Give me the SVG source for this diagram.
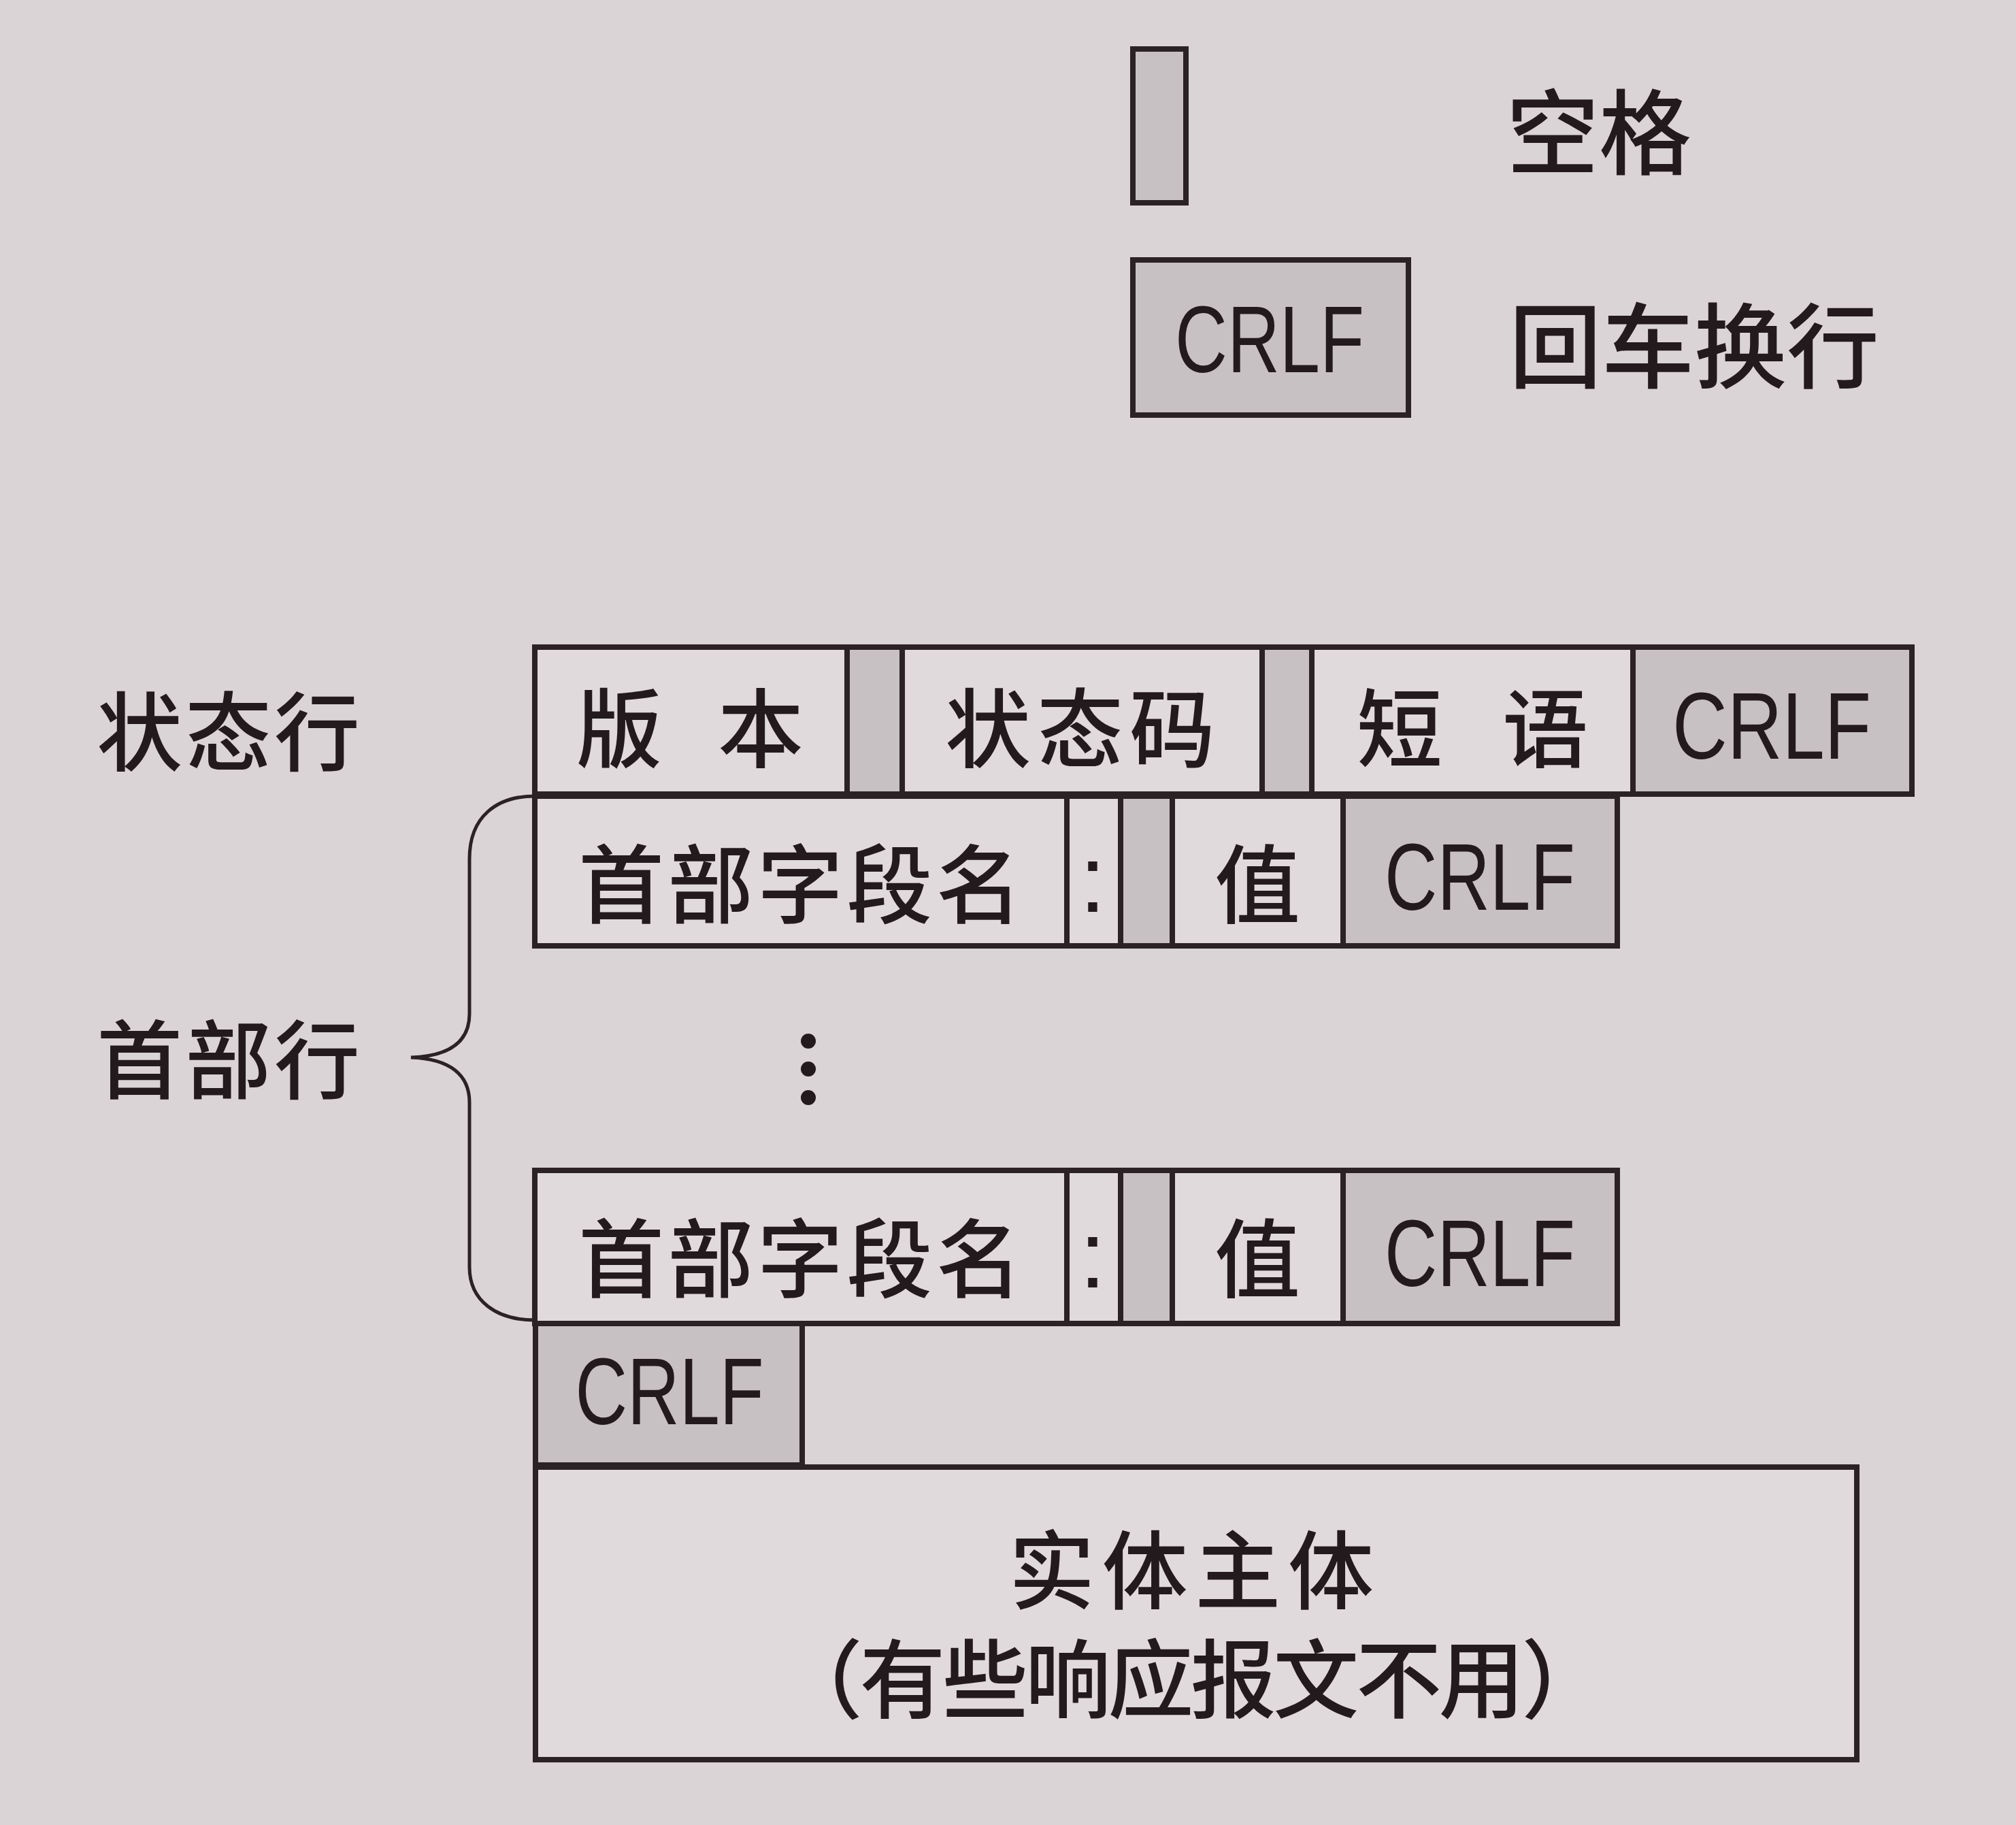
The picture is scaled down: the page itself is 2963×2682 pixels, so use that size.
<svg xmlns="http://www.w3.org/2000/svg" width="2963" height="2682" viewBox="0 0 2963 2682">
<style>
.cell{fill:#e0dadc;stroke:#2a2225;stroke-width:8}
.sh{fill:#c8c1c4;stroke:#2a2225;stroke-width:8}
.zh{font-family:"Noto Sans CJK SC","Noto Sans CJK TC",sans-serif;font-size:126px;font-weight:500;fill:#221a1d;dominant-baseline:central}
.lg{font-size:136px}
.en{font-family:"Liberation Sans",Arial,sans-serif;font-size:140px;fill:#221a1d}
.brace{fill:none;stroke:#2a2225;stroke-width:5}
</style>
<rect width="2963" height="2682" fill="#dad4d6"/>

<g id="legend-space">
<rect class="sh" x="1665" y="72" width="78" height="226"/>
<text class="zh lg" x="2214" y="186">空格</text>
</g>
<g id="legend-crlf">
<rect class="sh" x="1665" y="382" width="405" height="228"/>
<text class="en" x="1866" y="547" text-anchor="middle" textLength="278" lengthAdjust="spacingAndGlyphs">CRLF</text>
<text class="zh lg" x="2218" y="500">回车换行</text>
</g>

<g id="label-status">
<text class="zh" x="142" y="1068" textLength="387" lengthAdjust="spacing">状态行</text>
</g>
<g id="label-header">
<text class="zh" x="142" y="1550" textLength="387" lengthAdjust="spacing">首部行</text>
</g>

<g id="status-line">
<rect class="cell" x="786" y="951" width="459" height="216"/>
<rect class="sh" x="1245" y="951" width="81" height="216"/>
<rect class="cell" x="1326" y="951" width="529" height="216"/>
<rect class="sh" x="1855" y="951" width="73" height="216"/>
<rect class="cell" x="1928" y="951" width="472" height="216"/>
<rect class="sh" x="2400" y="951" width="410" height="216"/>
<text class="zh" x="847" y="1063" textLength="334" lengthAdjust="spacing">版 本</text>
<text class="zh" x="1389" y="1063" textLength="397" lengthAdjust="spacing">状态码</text>
<text class="zh" x="1994" y="1063" textLength="340" lengthAdjust="spacing">短 语</text>
<text class="en" x="2604" y="1115" text-anchor="middle" textLength="292" lengthAdjust="spacingAndGlyphs">CRLF</text>
</g>

<g id="header-line-1">
<rect class="cell" x="786" y="1170" width="782" height="220"/>
<rect class="cell" x="1568" y="1170" width="79" height="220"/>
<rect class="sh" x="1647" y="1170" width="76" height="220"/>
<rect class="cell" x="1723" y="1170" width="251" height="220"/>
<rect class="sh" x="1974" y="1170" width="403" height="220"/>
<text class="zh" x="850" y="1292" textLength="652" lengthAdjust="spacing">首部字段名</text>
<text class="en" x="1606" y="1340" text-anchor="middle">:</text>
<text class="zh" x="1848" y="1292" text-anchor="middle">值</text>
<text class="en" x="2175" y="1337" text-anchor="middle" textLength="280" lengthAdjust="spacingAndGlyphs">CRLF</text>
</g>

<g id="ellipsis">
<circle cx="1188" cy="1530" r="11" fill="#221a1d"/>
<circle cx="1188" cy="1571" r="11" fill="#221a1d"/>
<circle cx="1188" cy="1613" r="11" fill="#221a1d"/>
</g>

<g id="header-line-2">
<rect class="cell" x="786" y="1720" width="782" height="225"/>
<rect class="cell" x="1568" y="1720" width="79" height="225"/>
<rect class="sh" x="1647" y="1720" width="76" height="225"/>
<rect class="cell" x="1723" y="1720" width="251" height="225"/>
<rect class="sh" x="1974" y="1720" width="403" height="225"/>
<text class="zh" x="850" y="1842" textLength="652" lengthAdjust="spacing">首部字段名</text>
<text class="en" x="1606" y="1892" text-anchor="middle">:</text>
<text class="zh" x="1848" y="1842" text-anchor="middle">值</text>
<text class="en" x="2175" y="1890" text-anchor="middle" textLength="280" lengthAdjust="spacingAndGlyphs">CRLF</text>
</g>

<g id="blank-crlf">
<rect class="sh" x="787" y="1945" width="392" height="208"/>
<text class="en" x="984" y="2093" text-anchor="middle" textLength="277" lengthAdjust="spacingAndGlyphs">CRLF</text>
</g>

<g id="entity-body">
<rect class="cell" x="787" y="2156" width="1942" height="430"/>
<text class="zh" x="1751" y="2300" text-anchor="middle" textLength="536" lengthAdjust="spacing">实体主体</text>
<text class="zh" x="1752" y="2460" text-anchor="middle" textLength="1220" lengthAdjust="spacing">（有些响应报文不用）</text>
</g>

<g id="connectors">
<path class="brace" d="M786,1170 C730,1170 690,1200 690,1262 L690,1490 C690,1530 662,1552 604,1554 C662,1556 690,1580 690,1620 L690,1862 C690,1912 730,1940 786,1940"/>
</g>
</svg>
